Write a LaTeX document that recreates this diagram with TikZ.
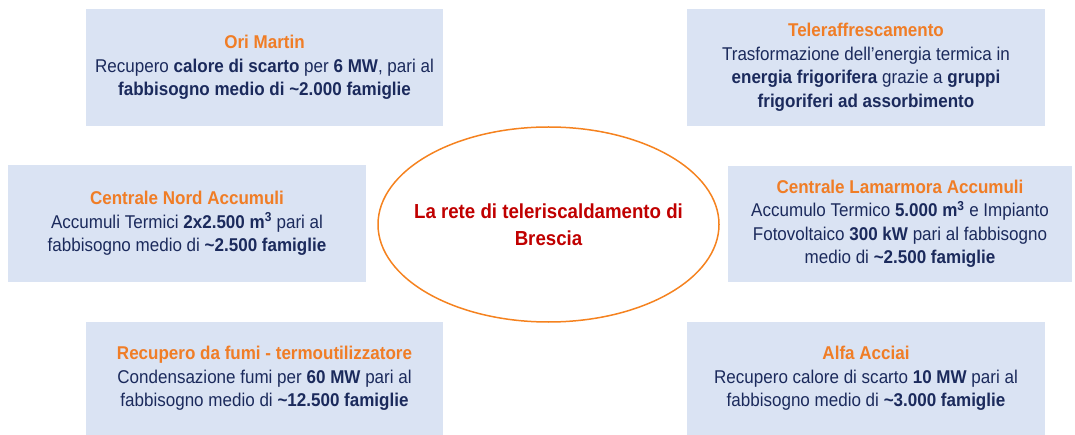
\documentclass[tikz,border=0pt]{standalone}
\usepackage{fontspec}
\setmainfont{Liberation Sans}[FakeStretch=0.92]
\usetikzlibrary{shapes.geometric}
\definecolor{boxfill}{HTML}{DAE3F3}
\definecolor{titleorange}{HTML}{F07D26}
\definecolor{textnavy}{HTML}{1B2A5C}
\definecolor{rimorange}{HTML}{F5821F}
\definecolor{centrered}{HTML}{C00000}
\newcommand{\boxtitle}[1]{{\color{titleorange}\textbf{#1}}\\}
\tikzset{
  infobox/.style={fill=boxfill, inner sep=0pt, align=center, text=textnavy,
    font=\fontsize{18.5}{23.5}\selectfont},
  reteellipse/.style={ellipse, draw=rimorange, line width=1.5pt,
    inner xsep=-30pt, inner ysep=0pt,
    minimum width=341pt, minimum height=195pt, align=center, text=centrered,
    font=\fontsize{20.3}{27}\selectfont\bfseries}
}
\begin{document}
\begin{tikzpicture}[x=1pt,y=-1pt]
    \useasboundingbox (0,0) rectangle (1075,435);
    % left column
    \node (orimartin) [infobox, minimum width=357pt, minimum height=117pt] at (264.5,67.5)
        {\boxtitle{Ori Martin}Recupero \textbf{calore di scarto} per \textbf{6 MW}, pari al\\
        \textbf{fabbisogno medio di \textasciitilde2.000 famiglie}};
    \node (nordaccumuli) [infobox, minimum width=358pt, minimum height=117pt] at (187,223.5)
        {\boxtitle{Centrale Nord Accumuli}Accumuli Termici \textbf{2x2.500 m\textsuperscript{3}} pari al\\
        fabbisogno medio di \textbf{\textasciitilde2.500 famiglie}};
    \node (fumi) [infobox, minimum width=357pt, minimum height=113pt] at (264.5,378.5)
        {\boxtitle{Recupero da fumi - termoutilizzatore}Condensazione fumi per \textbf{60 MW} pari al\\
        fabbisogno medio di \textbf{\textasciitilde12.500 famiglie}};
    % right column
    \node (teleraff) [infobox, minimum width=358pt, minimum height=117pt] at (866,67.5)
        {\boxtitle{Teleraffrescamento}Trasformazione dell’energia termica in\\
        \textbf{energia frigorifera} grazie a \textbf{gruppi}\\
        \textbf{frigoriferi ad assorbimento}};
    \node (lamarmora) [infobox, minimum width=344pt, minimum height=116pt] at (900,224)
        {\boxtitle{Centrale Lamarmora Accumuli}Accumulo Termico \textbf{5.000 m\textsuperscript{3}} e Impianto\\
        Fotovoltaico \textbf{300 kW} pari al fabbisogno\\
        medio di \textbf{\textasciitilde2.500 famiglie}};
    \node (alfaacciai) [infobox, minimum width=358pt, minimum height=113pt] at (866,378.5)
        {\boxtitle{Alfa Acciai}Recupero calore di scarto \textbf{10 MW} pari al\\
        fabbisogno medio di \textbf{\textasciitilde3.000 famiglie}};
    % centre
    \node (rete) [reteellipse] at (548.5,224.5)
        {La rete di teleriscaldamento di\\Brescia};
\end{tikzpicture}
\end{document}
